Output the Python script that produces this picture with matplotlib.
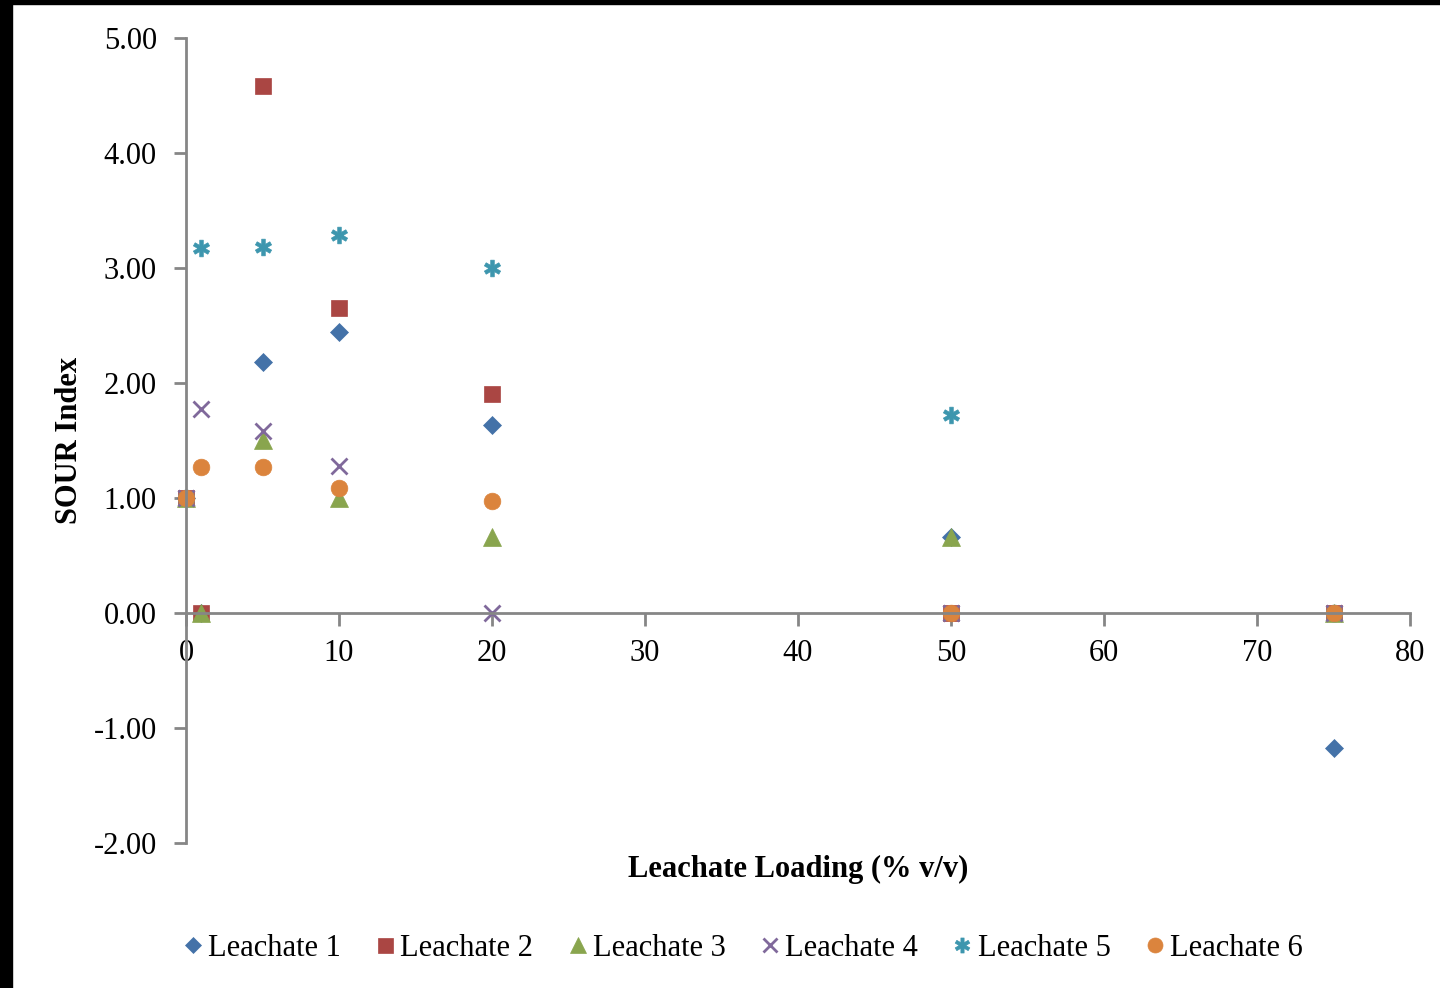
import matplotlib.pyplot as plt
from matplotlib.patches import Rectangle

plt.rcParams['font.family'] = ['Liberation Serif', 'DejaVu Serif']

loading = [0, 1, 5, 10, 20, 50, 75]
leachate1 = [1.00, 0.00, 2.18, 2.44, 1.63, 0.66, -1.17]
leachate2 = [1.00, 0.00, 4.58, 2.65, 1.90, 0.00, 0.00]
leachate3 = [1.00, 0.00, 1.50, 1.00, 0.66, 0.66, 0.00]
leachate4 = [1.00, 1.77, 1.58, 1.28, 0.00, 0.00, 0.00]
leachate5 = [1.00, 3.17, 3.18, 3.29, 3.00, 1.72, 0.00]
leachate6 = [1.00, 1.27, 1.27, 1.09, 0.97, 0.00, 0.00]

names = ["Leachate 1", "Leachate 2", "Leachate 3", "Leachate 4", "Leachate 5", "Leachate 6"]
series = [leachate1, leachate2, leachate3, leachate4, leachate5, leachate6]
colors = ["#4472a8", "#aa4643", "#89a54e", "#80699b", "#3d96ae", "#db843d"]
markers = ["D", "s", "^", "x", "$\u2731$", "o"]
sizes = [9, 12, 13, 11, 12, 12]

fig = plt.figure(figsize=(14.4, 9.88), dpi=100)
ax = fig.add_axes([0.1292, 0.1468, 0.8500, 0.8148])

for i in range(6):
    mew = 2 if markers[i] == "x" else 0.5
    ax.plot(loading, series[i], linestyle="none", marker=markers[i], markersize=sizes[i],
            color=colors[i], markeredgewidth=mew, label=names[i], clip_on=False)

ax.set_xlim(0, 80)
ax.set_ylim(-2, 5)
ax.set_xticks(range(0, 81, 10))
ax.set_yticks(range(-2, 6))
ax.set_yticklabels(["%.2f" % v for v in range(-2, 6)])

ax.spines["top"].set_visible(False)
ax.spines["right"].set_visible(False)
ax.spines["bottom"].set_position(("data", 0))
for s in ["left", "bottom"]:
    ax.spines[s].set_color("#868686")
    ax.spines[s].set_linewidth(2)
ax.tick_params(direction="out", length=9, width=2, color="#868686", labelsize=22)
ax.tick_params(axis="y", pad=12)
ax.tick_params(axis="x", pad=10)

ax.set_xlabel("Leachate Loading (% v/v)", fontsize=22, fontweight="bold", labelpad=0)
ax.xaxis.set_label_coords(0.5, -0.015)
ax.set_ylabel("SOUR Index", fontsize=22, fontweight="bold")
ax.yaxis.set_label_coords(-0.083, 0.5)

leg = fig.legend(loc="center", bbox_to_anchor=(0.514, 0.04), ncol=6, frameon=False,
                 fontsize=22, handletextpad=0.0, columnspacing=0.95, markerscale=0.9,
                 handlelength=1.0)

# black border strips like the screenshot
fig.patches.append(Rectangle((0, 0), 12 / 1440, 1, transform=fig.transFigure, color="black"))
fig.patches.append(Rectangle((0, 1 - 4 / 988), 1, 4 / 988, transform=fig.transFigure, color="black"))

fig.savefig("out.png", dpi=100)
